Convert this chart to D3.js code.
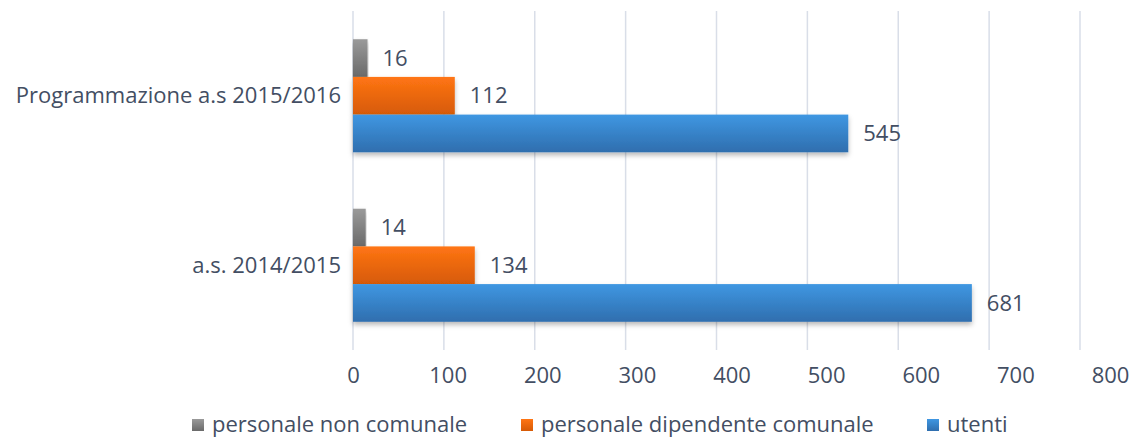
<!DOCTYPE html>
<html>
<head>
<meta charset="utf-8">
<script src="https://cdn.jsdelivr.net/npm/d3@7"></script>
<style>
  body { margin: 0; background: #fff; }
  text { font-family: "Open Sans", "Noto Sans", sans-serif; fill: #434e63; }
</style>
</head>
<body>
<script>
var width = 1132, height = 437;

// data
var categories = ["Programmazione a.s 2015/2016", "a.s. 2014/2015"];
var seriesNames = ["personale non comunale", "personale dipendente comunale", "utenti"];
var nonComunale = [16, 14];
var dipendenteComunale = [112, 134];
var utenti = [545, 681];
var ticks = [0, 100, 200, 300, 400, 500, 600, 700, 800];

var seriesValues = [nonComunale, dipendenteComunale, utenti];
var colors = [
  {top: "#9a9a9a", bottom: "#6a6a6a"},
  {top: "#ff7514", bottom: "#d65a06"},
  {top: "#3f97e2", bottom: "#2f6eae"}
];

var plotLeft = 353, plotRight = 1080, plotTop = 11, plotBottom = 350;
var fontSize = 22;

var x = d3.scaleLinear().domain([0, 800]).range([plotLeft, plotRight]);
// tick labels in the picture sit slightly wider than the grid
var xLabel = d3.scaleLinear().domain([0, 800]).range([plotLeft, 1110]);
var y = d3.scaleBand().domain(categories).range([plotTop, plotBottom])
          .paddingInner(0.333).paddingOuter(0.1665);
var ySub = d3.scaleBand().domain(d3.range(3)).range([0, y.bandwidth()]);

var svg = d3.select("body")
            .append("svg")
            .attr("width", width)
            .attr("height", height);

var defs = svg.append("defs");
colors.forEach(function (c, i) {
  var g = defs.append("linearGradient")
              .attr("id", "grad" + i)
              .attr("x1", 0).attr("y1", 0).attr("x2", 0).attr("y2", 1);
  g.append("stop").attr("offset", "0%").attr("stop-color", c.top);
  g.append("stop").attr("offset", "100%").attr("stop-color", c.bottom);
});
var shadow = defs.append("filter").attr("id", "shadow")
                 .attr("x", "-5%").attr("y", "-20%").attr("width", "110%").attr("height", "150%");
shadow.append("feDropShadow")
      .attr("dx", 0).attr("dy", 3).attr("stdDeviation", 2.5)
      .attr("flood-color", "#000").attr("flood-opacity", 0.28);

// gridlines
svg.append("g")
   .selectAll("line")
   .data(ticks)
   .enter()
   .append("line")
   .attr("x1", d => x(d)).attr("x2", d => x(d))
   .attr("y1", plotTop).attr("y2", plotBottom)
   .attr("stroke", "#d9dee8")
   .attr("stroke-width", 1.5);

// bars
var groups = svg.selectAll(".group")
                .data(categories)
                .enter()
                .append("g")
                .attr("class", "group")
                .attr("transform", d => "translate(0," + y(d) + ")");

groups.each(function (cat, ci) {
  var g = d3.select(this);
  seriesValues.forEach(function (vals, si) {
    g.append("rect")
     .attr("x", x(0))
     .attr("y", ySub(si))
     .attr("width", x(vals[ci]) - x(0))
     .attr("height", ySub.bandwidth())
     .attr("fill", "url(#grad" + si + ")")
     .attr("filter", "url(#shadow)");
    g.append("text")
     .attr("x", x(vals[ci]) + 15)
     .attr("y", ySub(si) + ySub.bandwidth() / 2)
     .attr("dy", "0.35em")
     .attr("font-size", fontSize)
     .text(vals[ci]);
  });
});

// category labels
svg.append("g")
   .selectAll("text")
   .data(categories)
   .enter()
   .append("text")
   .attr("x", 341)
   .attr("y", d => y(d) + y.bandwidth() / 2)
   .attr("dy", "0.35em")
   .attr("text-anchor", "end")
   .attr("font-size", fontSize)
   .text(d => d);

// x axis labels
var xAxis = svg.append("g")
               .attr("transform", "translate(0,375)")
               .call(d3.axisBottom(xLabel).tickValues(ticks).tickSize(0).tickPadding(0));
xAxis.select(".domain").remove();
xAxis.attr("font-family", null).attr("font-size", null);
xAxis.selectAll("text")
     .attr("font-size", fontSize)
     .attr("dy", "0.35em")
     .attr("fill", null);

// legend
var legendX = [192, 521, 927];
var legend = svg.append("g")
                .selectAll("g")
                .data(seriesNames)
                .enter()
                .append("g")
                .attr("transform", (d, i) => "translate(" + legendX[i] + ",424)");
legend.append("rect")
      .attr("x", 0).attr("y", -5)
      .attr("width", 12).attr("height", 12)
      .attr("fill", (d, i) => "url(#grad" + i + ")");
legend.append("text")
      .attr("x", 20)
      .attr("dy", "0.35em")
      .attr("font-size", fontSize)
      .text(d => d);
</script>
</body>
</html>
